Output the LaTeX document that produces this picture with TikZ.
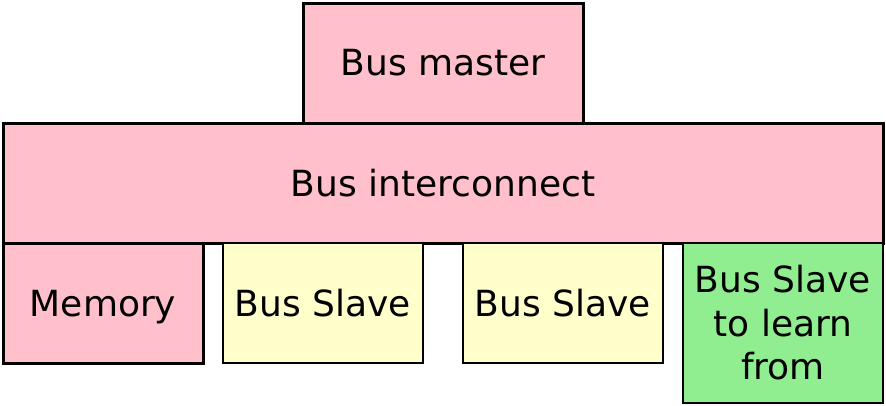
\documentclass[tikz,border=0pt]{standalone}
\usepackage{fontspec}
\setmainfont{DejaVu Sans}
\usepackage{tikz}
\definecolor{buspink}{HTML}{FFC0CB}
\definecolor{slaveyellow}{HTML}{FFFFCC}
\definecolor{learngreen}{HTML}{90EE90}
\begin{document}
\begin{tikzpicture}[
        x=0.75pt, y=-0.75pt,
        every node/.style={font=\fontsize{27}{32.6}\selectfont, align=center, inner sep=0pt},
        mainbox/.style={rectangle, draw=black, line width=2.25pt, fill=buspink, minimum width=#1, minimum height=90pt},
        slave/.style={rectangle, draw=black, line width=1.1pt, fill=slaveyellow, minimum width=150pt, minimum height=90pt}
    ]
    \useasboundingbox (0,0) rectangle (886,405);

    % Bus master
    \node[mainbox=210pt] at (443,63) (master) {Bus master};

    % Bus interconnect
    \node[mainbox=660pt] at (443,183) (interconnect) {Bus interconnect};

    % Memory
    \node[mainbox=150pt, text depth=0pt] at (103,303) (memory) {Memory};

    % Bus Slaves
    \node[slave] at (323,303) (slaveA) {Bus Slave};
    \node[slave] at (563,303) (slaveB) {Bus Slave};

    % Bus Slave to learn from
    \node[slave, fill=learngreen, minimum height=120pt] at (783,323) (learn) {Bus Slave\\to learn\\from};

    \end{tikzpicture}
\end{document}
